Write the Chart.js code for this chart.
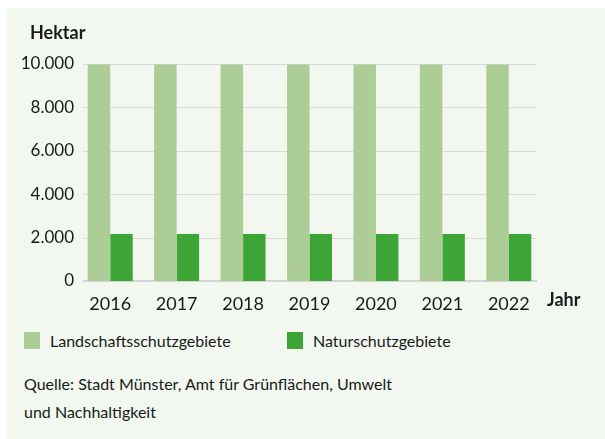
<!DOCTYPE html>
<html lang="de">
<head>
<meta charset="utf-8">
<script src="https://cdn.jsdelivr.net/npm/chart.js@4.4.1/dist/chart.umd.min.js"></script>
<style>
  body { margin: 0; width: 605px; height: 439px; background: #fff; position: relative; overflow: hidden;
         font-family: Lato, "Open Sans", sans-serif; color: #1a1a1a; }
  #panel { position: absolute; left: 7px; top: 8px; right: 0; bottom: 0; background: #f2f7f0; }
  #chart { position: absolute; left: 0; top: 0; }
  .lbl { position: absolute; font-weight: bold; font-size: 18px; line-height: 20px; }
  #legend .sw { position: absolute; width: 16px; height: 17px; top: 332px; }
  #legend .tx { position: absolute; top: 330px; font-size: 16px; line-height: 22px; }
  #source { position: absolute; left: 24px; top: 370px; font-size: 16px; line-height: 28px; }
</style>
</head>
<body>
<div id="panel"></div>
<canvas id="chart" width="605" height="330"></canvas>
<div class="lbl" style="left:30px;top:22px">Hektar</div>
<div class="lbl" style="left:547px;top:289px">Jahr</div>
<div id="legend"></div>
<div id="source">Quelle: Stadt Münster, Amt für Grünflächen, Umwelt<br>und Nachhaltigkeit</div>
<script>
var years = ['2016', '2017', '2018', '2019', '2020', '2021', '2022'];
var landschaft = [9980, 9980, 9980, 9980, 9980, 9980, 9980];
var natur = [2170, 2170, 2170, 2170, 2170, 2170, 2170];
var yTicks = [0, 2000, 4000, 6000, 8000, 10000];

var colLandschaft = '#adcd97';
var colNatur = '#3ca535';

function fmt(v) {
  return String(v).replace(/\B(?=(\d{3})+(?!\d))/g, '.');
}

// gridlines a bit shorter than the plot area, thicker base line
var gridPlugin = {
  id: 'gridPlugin',
  beforeDatasetsDraw: function (chart) {
    var ctx = chart.ctx, a = chart.chartArea, y = chart.scales.y;
    ctx.save();
    yTicks.forEach(function (t) {
      var py = Math.round(y.getPixelForValue(t));
      ctx.beginPath();
      if (t === 0) {
        ctx.strokeStyle = '#d4d4d4';
        ctx.lineWidth = 2;
        ctx.moveTo(a.left + 6, py);
        ctx.lineTo(a.right - 5, py);
      } else {
        ctx.strokeStyle = '#d9d9d9';
        ctx.lineWidth = 1;
        ctx.moveTo(a.left + 6, py + 0.5);
        ctx.lineTo(a.right - 5, py + 0.5);
      }
      ctx.stroke();
    });
    ctx.restore();
  }
};

var ctx = document.getElementById('chart').getContext('2d');
var myChart = new Chart(ctx, {
  type: 'bar',
  data: {
    labels: years,
    datasets: [
      { label: 'Landschaftsschutzgebiete', backgroundColor: colLandschaft, data: landschaft },
      { label: 'Naturschutzgebiete', backgroundColor: colNatur, data: natur }
    ]
  },
  options: {
    responsive: false,
    animation: false,
    layout: { padding: { left: 0, right: 63, top: 64, bottom: 9 } },
    datasets: { bar: { categoryPercentage: 0.677, barPercentage: 1 } },
    plugins: { legend: { display: false }, tooltip: { enabled: false } },
    scales: {
      x: {
        grid: { display: false, drawTicks: false },
        border: { display: false },
        ticks: { color: '#1a1a1a', padding: 12, font: { family: 'Lato', size: 18 } },
        afterFit: function (s) { s.height = 40; }
      },
      y: {
        min: 0, max: 10000,
        grid: { display: false, drawTicks: false },
        border: { display: false },
        afterBuildTicks: function (s) { s.ticks = yTicks.map(function (v) { return { value: v }; }); },
        ticks: { color: '#1a1a1a', padding: 3, font: { family: 'Lato', size: 17 },
                 callback: function (v) { return fmt(v); } },
        afterFit: function (s) { s.width = 77; }
      }
    }
  },
  plugins: [gridPlugin]
});

// legend in the chart's own layout
var legend = document.getElementById('legend');
var legendX = [24, 287];
myChart.data.datasets.forEach(function (ds, i) {
  var sw = document.createElement('div');
  sw.className = 'sw';
  sw.style.left = legendX[i] + 'px';
  sw.style.background = ds.backgroundColor;
  legend.appendChild(sw);
  var tx = document.createElement('div');
  tx.className = 'tx';
  tx.style.left = (legendX[i] + 26) + 'px';
  tx.textContent = ds.label;
  legend.appendChild(tx);
});
</script>
</body>
</html>
